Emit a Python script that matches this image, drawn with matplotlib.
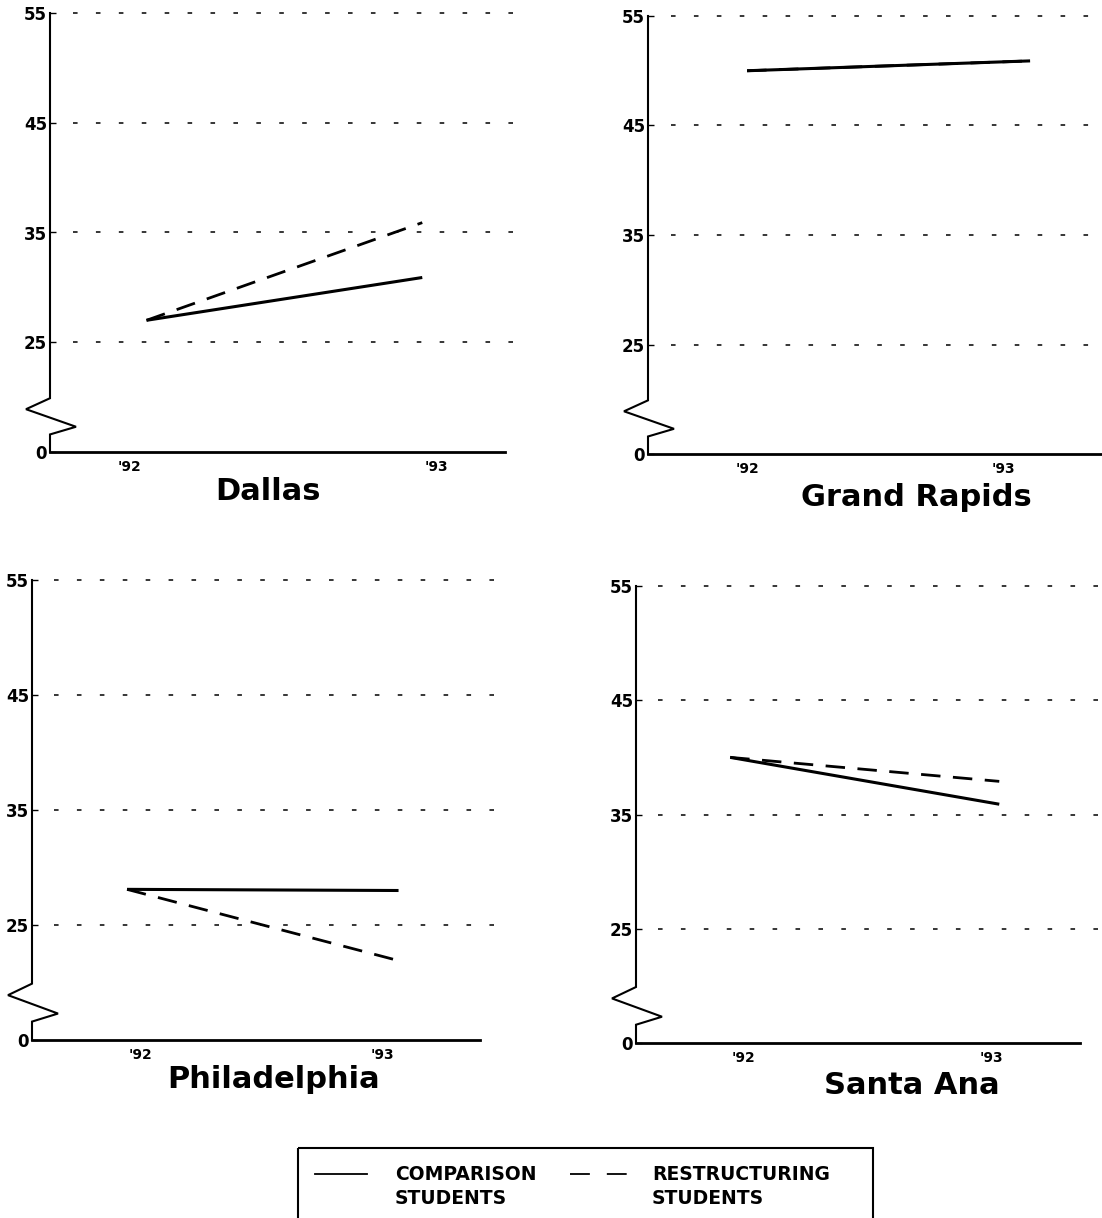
import matplotlib.pyplot as plt
from matplotlib.lines import Line2D
from matplotlib.patches import Rectangle

W, H = 1102, 1218

cities = ["Dallas", "Grand Rapids", "Philadelphia", "Santa Ana"]
year_labels = ["'92", "'93"]
comparison = [
    [27.0, 30.9],
    [50.0, 50.9],
    [28.1, 28.0],
    [40.0, 35.9],
]
restructuring = [
    [27.0, 35.9],
    [50.0, 50.9],
    [28.1, 21.9],
    [40.0, 37.9],
]
tick_values = [15, 25, 35, 45, 55]
tick_labels = ["0", "25", "35", "45", "55"]

# panel boxes in pixels: left, right, y of 55, y of 0
panel_px = [
    (50, 505, 13, 452),
    (648, 1115, 16, 454),
    (32, 480, 580, 1040),
    (636, 1080, 586, 1043),
]
grid_end = [1.04, 1.0, 1.04, 1.05]
# where the year labels sit (x data units) and the title centre (px)
year_pos = [(-0.06, 1.05), (0.0, 0.905), (0.05, 0.94), (0.05, 0.97)]
title_px = [(268, 491), (916, 497), (274, 1079), (912, 1085)]

plt.rcParams["font.family"] = ["DejaVu Sans"]


def draw_panel(fig, box, city, comp, rest, gend, ypos, tpos):
    left, right, top, bottom = box
    ax = fig.add_axes([left / W, 1 - bottom / H, (right - left) / W, (bottom - top) / H])
    ax.set_xlim(-0.35, 1.3)
    ax.set_ylim(15, 55)
    width_px = right - left

    for s in ["top", "right", "left"]:
        ax.spines[s].set_visible(False)
    ax.spines["bottom"].set_linewidth(2.0)

    # broken y axis
    tr = ax.get_yaxis_transform()
    bx = [0, 0, -24 / width_px, 26 / width_px, 0, 0]
    by = [55, 19.9, 18.9, 17.3, 16.6, 15]
    ax.plot(bx, by, color="black", lw=1.5, transform=tr, clip_on=False,
            solid_joinstyle="miter")

    for v in tick_values[1:]:
        ax.plot([0.05, gend], [v, v], transform=tr, color="black", lw=1.1,
                linestyle=(0, (3, 12)), clip_on=False, zorder=1)

    x = [0, 1]
    ax.plot(x, rest, color="black", lw=2.0, dashes=(7, 4.5), zorder=3,
            solid_capstyle="butt")
    ax.plot(x, comp, color="black", lw=2.2, zorder=4, solid_capstyle="butt")

    ax.set_yticks(tick_values)
    ax.set_yticklabels(tick_labels, fontsize=12, fontweight="bold")
    ax.tick_params(axis="y", direction="in", length=4, width=1, pad=2)
    ax.set_xticks(list(ypos))
    ax.set_xticklabels(year_labels, fontsize=10, fontweight="bold")
    ax.tick_params(axis="x", length=0, pad=6)

    tx = (tpos[0] - left) / width_px
    ty = -(tpos[1] - bottom) / (bottom - top)
    ax.text(tx, ty, city, transform=ax.transAxes, ha="center", va="center",
            fontsize=22, fontweight="bold")
    ax.patch.set_visible(False)
    return ax


def draw_legend(fig):
    ov = fig.add_axes([0, 0, 1, 1])
    ov.set_xlim(0, W)
    ov.set_ylim(H, 0)
    ov.axis("off")
    ov.add_patch(Rectangle((298, 1148), 575, 90, fill=False, lw=1.5, ec="black"))
    ov.add_line(Line2D([315, 367], [1174, 1174], color="black", lw=1.3))
    ov.add_line(Line2D([570, 628], [1174, 1174], color="black", lw=1.3,
                       dashes=(11, 9.4)))
    kw = dict(fontsize=13.5, fontweight="bold", va="center", ha="left")
    ov.text(395, 1175, "COMPARISON", **kw)
    ov.text(395, 1199, "STUDENTS", **kw)
    ov.text(652, 1175, "RESTRUCTURING", **kw)
    ov.text(652, 1199, "STUDENTS", **kw)


def main():
    fig = plt.figure(figsize=(W / 100, H / 100), dpi=100)
    for i, city in enumerate(cities):
        draw_panel(fig, panel_px[i], city, comparison[i], restructuring[i],
                   grid_end[i], year_pos[i], title_px[i])
    draw_legend(fig)
    fig.savefig("out.png", dpi=100)
    plt.close(fig)


if __name__ == "__main__":
    main()
